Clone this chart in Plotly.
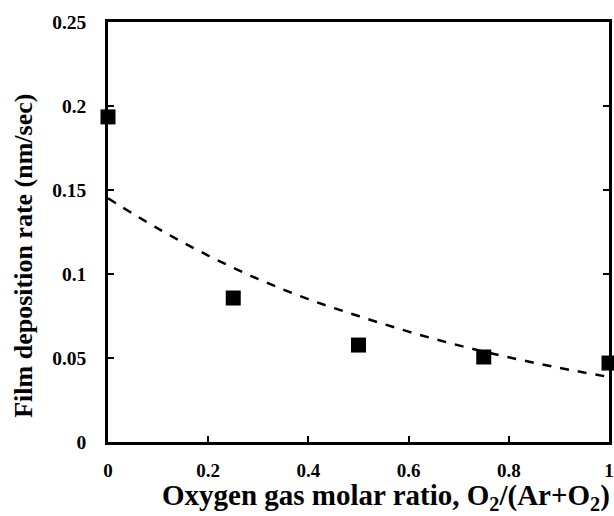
import plotly.graph_objects as go

# Measured data
ratio = [0, 0.25, 0.5, 0.75, 1.0]
rate = [0.1935, 0.0857, 0.0577, 0.0506, 0.047]

# Dashed trend line
trend_x = [0, 0.1, 0.2, 0.3, 0.4, 0.5, 0.6, 0.7, 0.8, 0.9, 1.0]
trend_y = [0.145, 0.127, 0.111, 0.097, 0.085, 0.075, 0.0657, 0.0575, 0.0504, 0.0442, 0.0387]

x_ticks = [0, 0.2, 0.4, 0.6, 0.8, 1.0]
x_tick_text = ["0", "0.2", "0.4", "0.6", "0.8", "1"]
y_ticks = [0, 0.05, 0.1, 0.15, 0.2, 0.25]
y_tick_text = ["0", "0.05", "0.1", "0.15", "0.2", "0.25"]

x_title = "Oxygen gas molar ratio, O<sub>2</sub>/(Ar+O<sub>2</sub>)"
y_title = "Film deposition rate (nm/sec)"

FONT = "Liberation Serif"

fig = go.Figure()
fig.add_trace(go.Scatter(
    x=trend_x, y=trend_y, mode="lines",
    line=dict(color="black", width=2.5, dash="dash", shape="spline"),
    showlegend=False, hoverinfo="skip",
))
fig.add_trace(go.Scatter(
    x=ratio, y=rate, mode="markers",
    marker=dict(symbol="square", size=15, color="black"),
    cliponaxis=False, showlegend=False,
))

fig.update_layout(
    width=614, height=516,
    margin=dict(l=108, r=5, t=22, b=74),
    paper_bgcolor="white", plot_bgcolor="white",
    font=dict(family=FONT, color="black"),
)
fig.update_xaxes(
    range=[0, 1], tickvals=x_ticks, ticktext=x_tick_text,
    ticks="inside", ticklen=6, tickwidth=2, tickcolor="black",
    showline=True, linecolor="black", linewidth=2.5, mirror=True,
    showgrid=False, zeroline=False, automargin=False,
    ticklabelstandoff=9,
    tickfont=dict(family=FONT, size=19, weight="bold"),
)
fig.update_yaxes(
    range=[0, 0.25], tickvals=y_ticks, ticktext=y_tick_text,
    ticks="inside", ticklen=6, tickwidth=2, tickcolor="black",
    showline=True, linecolor="black", linewidth=2.5, mirror="ticks",
    showgrid=False, zeroline=False, automargin=False,
    ticklabelstandoff=15,
    tickfont=dict(family=FONT, size=19.5, weight="bold"),
)
fig.add_annotation(
    text=x_title, xref="paper", yref="paper", x=0.555, y=-0.131,
    xanchor="center", yanchor="middle", showarrow=False,
    font=dict(family=FONT, size=29, weight="bold"),
)
fig.add_annotation(
    text=y_title, xref="paper", yref="paper", x=-0.168, y=0.443,
    xanchor="center", yanchor="middle", showarrow=False, textangle=-90,
    font=dict(family=FONT, size=26, weight="bold"),
)

fig.write_html("out.html", config={"displayModeBar": False},
               post_script="document.body.style.margin='0px';")
